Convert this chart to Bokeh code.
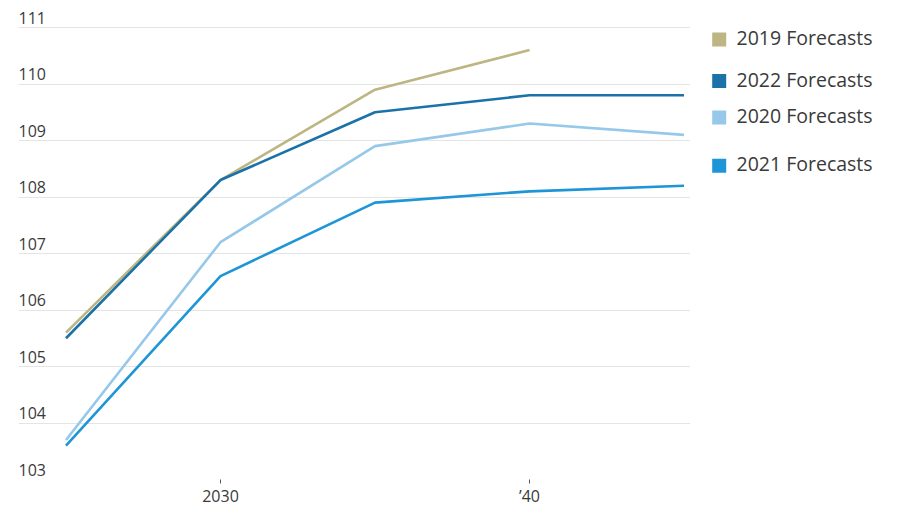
from bokeh.plotting import figure
from bokeh.layouts import row
from bokeh.models import FixedTicker, Range1d
from bokeh.embed import file_html
from bokeh.resources import INLINE
from bokeh.core.properties import value

# ---- data ----
years = [2025, 2030, 2035, 2040, 2045]
years_2019 = [2025, 2030, 2035, 2040]
f2019 = [105.6, 108.3, 109.9, 110.6]
f2022 = [105.5, 108.3, 109.5, 109.8, 109.8]
f2020 = [103.7, 107.2, 108.9, 109.3, 109.1]
f2021 = [103.6, 106.6, 107.9, 108.1, 108.2]
series_names = ["2019 Forecasts", "2022 Forecasts", "2020 Forecasts", "2021 Forecasts"]
y_ticks = [103, 104, 105, 106, 107, 108, 109, 110, 111]
x_ticks = [2030, 2040]
x_tick_labels = ["2030", "\u201940"]

# ---- style ----
C2019 = "#bdb682"
C2022 = "#1b72a8"
C2020 = "#96c8ea"
C2021 = "#1d95d7"
FONT = "Open Sans"
TXT = "#3a3a3a"

x0, x1 = 2023.463, 2045.21
y0, y1 = 103, 111.478

p = figure(width=690, height=510, x_range=Range1d(x0, x1), y_range=Range1d(y0, y1),
           output_backend="svg", toolbar_location=None, y_axis_location=None,
           min_border_left=18, min_border_right=0, min_border_top=0, min_border_bottom=31)
p.outline_line_color = None
p.background_fill_color = "white"
p.border_fill_color = "white"

p.xgrid.grid_line_color = None
p.ygrid.ticker = FixedTicker(ticks=y_ticks)
p.ygrid.grid_line_color = "#e4e4e4"
p.ygrid.grid_line_width = 1

ax = p.xaxis[0]
ax.ticker = FixedTicker(ticks=x_ticks)
ax.major_label_overrides = {t: l for t, l in zip(x_ticks, x_tick_labels)}
ax.axis_line_color = None
ax.major_tick_in = 0
ax.major_tick_out = 4
ax.major_tick_line_color = "#555555"
ax.minor_tick_line_color = None
ax.major_label_standoff = 1
ax.major_label_text_font = FONT
ax.major_label_text_font_size = "16px"
ax.major_label_text_color = TXT

# y tick labels drawn inside the frame, above gridlines
p.text(x=[x0] * len(y_ticks), y=y_ticks, text=[str(t) for t in y_ticks],
       text_font=value(FONT), text_font_size="16px", text_color=TXT,
       text_align="left", text_baseline="middle", y_offset=-10)

lw = 2.6
p.line(years_2019, f2019, line_color=C2019, line_width=lw)
p.line(years, f2022, line_color=C2022, line_width=lw)
p.line(years, f2020, line_color=C2020, line_width=lw)
p.line(years, f2021, line_color=C2021, line_width=lw)

# ---- legend panel (separate figure in screen-like coords) ----
colors = [C2019, C2022, C2020, C2021]
legend_rows = [41.5, 85.7, 124.5, 176]
lg = figure(width=210, height=510, x_range=Range1d(0, 210), y_range=Range1d(510, 0),
            output_backend="svg", toolbar_location=None, x_axis_location=None,
            y_axis_location=None, min_border=0)
lg.outline_line_color = None
lg.grid.grid_line_color = None
lg.rect(x=[28.7] * 4, y=legend_rows, width=14, height=14, width_units="screen",
        height_units="screen", fill_color=colors, line_color=None)
lg.text(x=[46] * 4, y=[r - 2 for r in legend_rows], text=series_names,
        text_font=value(FONT), text_font_size="19.5px", text_color=TXT,
        text_align="left", text_baseline="middle")

layout = row(p, lg, spacing=0)
open("out.html", "w").write(file_html(layout, INLINE))
